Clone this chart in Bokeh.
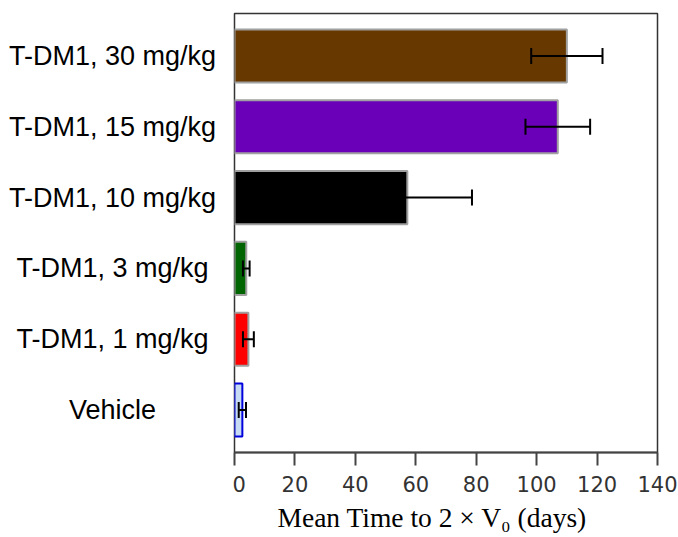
from bokeh.plotting import figure
from bokeh.layouts import row
from bokeh.models import (ColumnDataSource, Whisker, TeeHead, FixedTicker,
                          Range1d, Title)
from bokeh.core.properties import value
from bokeh.embed import file_html
from bokeh.resources import INLINE

# Treatment groups, bottom to top
groups = ["Vehicle", "T-DM1, 1 mg/kg", "T-DM1, 3 mg/kg",
          "T-DM1, 10 mg/kg", "T-DM1, 15 mg/kg", "T-DM1, 30 mg/kg"]
# Mean time to tumour volume doubling (days) and its error
mean_days = [2.6, 4.6, 3.9, 57.2, 107.0, 110.0]
err_days = [1.2, 1.8, 1.1, 21.4, 10.7, 11.8]
fill_colors = ["#c6daf3", "#ff0000", "#006400", "#000000", "#6a00b8", "#673900"]
edge_colors = ["#0000dd", "#a0a0a0", "#a0a0a0", "#a0a0a0", "#a0a0a0", "#a0a0a0"]
x_ticks = [0, 20, 40, 60, 80, 100, 120, 140]

pos = list(range(len(groups)))
src = ColumnDataSource(dict(
    y=pos,
    name=groups,
    mean=mean_days,
    lower=[m - e for m, e in zip(mean_days, err_days)],
    upper=[m + e for m, e in zip(mean_days, err_days)],
    fill=fill_colors,
    edge=edge_colors,
))

y_range = Range1d(-0.6, 5.6)
LEFT_W = 232

# Panel holding the group names, sharing the bar chart's vertical range
names = figure(width=LEFT_W, height=537, output_backend="svg", toolbar_location=None,
               x_range=Range1d(0, LEFT_W), y_range=y_range,
               x_axis_location=None, y_axis_location=None,
               min_border_left=0, min_border_right=0, min_border_top=13,
               min_border_bottom=85)
names.outline_line_color = None
names.grid.visible = False
names.text(x=112, y="y", text="name", source=src,
           text_align="center", text_baseline="middle",
           text_font=value("Liberation Sans"), text_font_size="27px",
           text_color="#000000")

p = figure(width=678 - LEFT_W, height=537, output_backend="svg", toolbar_location=None,
           x_range=Range1d(0, 140), y_range=y_range, y_axis_location=None,
           min_border_left=2, min_border_right=21, min_border_top=13,
           min_border_bottom=5)
p.background_fill_color = "white"
p.border_fill_color = "white"
p.grid.visible = False
p.outline_line_color = "#333333"
p.outline_line_width = 1.5

p.hbar(y="y", right="mean", left=0, height=0.75, source=src,
       fill_color="fill", line_color="edge", line_width=2)

whisk = Whisker(dimension="width", base="y", lower="lower", upper="upper",
                source=src, line_color="#000000", line_width=2, level="overlay",
                lower_head=TeeHead(size=16, line_color="#000000", line_width=2),
                upper_head=TeeHead(size=16, line_color="#000000", line_width=2))
p.add_layout(whisk)

ax = p.xaxis[0]
ax.ticker = FixedTicker(ticks=x_ticks)
ax.axis_line_color = "#444444"
ax.axis_line_width = 2
ax.major_tick_line_color = "#444444"
ax.major_tick_line_width = 2
ax.major_tick_out = 13
ax.major_tick_in = 0
ax.minor_tick_line_color = None
ax.major_label_text_font = "DejaVu Sans"
ax.major_label_text_font_size = "21px"
ax.major_label_text_color = "#333333"
ax.major_label_standoff = 10

# Axis title under the tick labels
p.add_layout(Title(text="Mean Time to 2 \u00d7 V\u2080 (days)", align="left",
                   offset=43, text_font="Liberation Serif",
                   text_font_size="27.5px", text_font_style="normal",
                   text_color="#000000", standoff=10), "below")

open("out.html", "w").write(file_html(row(names, p), INLINE))
